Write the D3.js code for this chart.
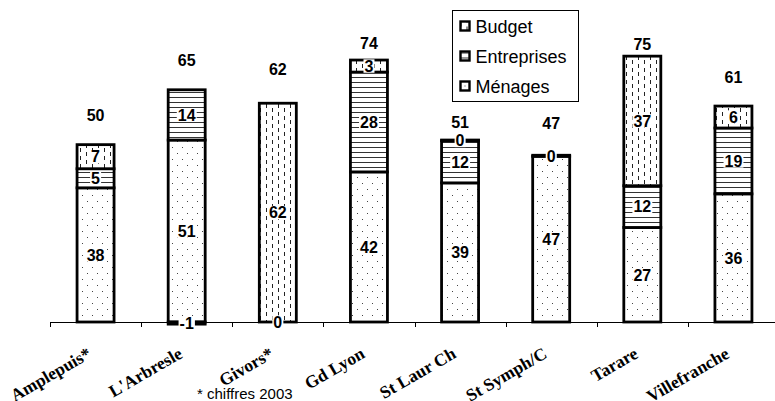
<!DOCTYPE html>
<html>
<head>
<meta charset="utf-8">
<script src="https://cdn.jsdelivr.net/npm/d3@7/dist/d3.min.js"></script>
<style>
  html, body { margin: 0; padding: 0; background: #fff; }
  svg { display: block; }
</style>
</head>
<body>
<svg id="chart" width="775" height="401"></svg>
<script>
// Financement du service déchets par collectivité (€/hab)
const categories = ["Amplepuis*", "L'Arbresle", "Givors*", "Gd Lyon", "St Laur Ch", "St Symph/C", "Tarare", "Villefranche"];
const menages     = [37.9, 51.4, 0,    42.4, 39.3, 46.8, 26.7, 36.2];
const entreprises = [5.4,  14.2, null, 28.2, 11.9, 0.3,  11.8, 18.6];
const budget      = [6.8,  -0.6, 61.8, 3.4,  0.2,  null, 36.6, 6.2];
const seriesNames = ["Ménages", "Entreprises", "Budget"];
const legendOrder = ["Budget", "Entreprises", "Ménages"];
const yDomain = [0, 80];

// layout: lift of each total label above its stack top (px)
const totalLift = [30, 30, 34, 17, 18, 32, 12, 29];

const svg = d3.select("#chart");
const W = 775, H = 401;
const baseY = 322;

const x = d3.scaleBand().domain(categories).range([50, 779]).paddingInner(0).paddingOuter(0);
const y = d3.scaleLinear().domain(yDomain).range([baseY, baseY - 80 * 3.54]);
const barW = 37;

// ---- fill patterns
const defs = svg.append("defs");
const pDots = defs.append("pattern").attr("id", "pat-menages")
  .attr("patternUnits", "userSpaceOnUse").attr("width", 10).attr("height", 12);
pDots.append("rect").attr("width", 10).attr("height", 12).attr("fill", "#fff");
pDots.append("rect").attr("x", 2).attr("y", 3).attr("width", 1).attr("height", 1).attr("fill", "#444");
pDots.append("rect").attr("x", 7).attr("y", 9).attr("width", 1).attr("height", 1).attr("fill", "#444");

const pLines = defs.append("pattern").attr("id", "pat-entreprises")
  .attr("patternUnits", "userSpaceOnUse").attr("width", 8).attr("height", 5);
pLines.append("rect").attr("width", 8).attr("height", 5).attr("fill", "#fff");
pLines.append("rect").attr("x", 0).attr("y", 2).attr("width", 8).attr("height", 1).attr("fill", "#333");

const pDash = defs.append("pattern").attr("id", "pat-budget")
  .attr("patternUnits", "userSpaceOnUse").attr("width", 12).attr("height", 8);
pDash.append("rect").attr("width", 12).attr("height", 8).attr("fill", "#fff");
pDash.append("rect").attr("x", 2).attr("y", 0).attr("width", 1).attr("height", 4).attr("fill", "#222");
pDash.append("rect").attr("x", 8).attr("y", 4).attr("width", 1).attr("height", 4).attr("fill", "#222");

const fills = { "Ménages": "url(#pat-menages)", "Entreprises": "url(#pat-entreprises)", "Budget": "url(#pat-budget)" };

// ---- title (runs above the top edge)
svg.append("text")
  .attr("x", 345).attr("y", 0)
  .attr("text-anchor", "middle")
  .attr("font-family", "Liberation Sans, Arial, sans-serif")
  .attr("font-weight", "bold").attr("font-size", 17)
  .attr("fill", "#888")
  .text("Financement du service d'élimination des déchets");

// ---- stacked data
const rows = categories.map((c, i) => ({
  cat: c,
  "Ménages": menages[i],
  "Entreprises": entreprises[i],
  "Budget": budget[i]
}));
const stack = d3.stack().keys(seriesNames)
  .value((d, k) => d[k] == null ? 0 : d[k])
  .offset(d3.stackOffsetDiverging);
const layers = stack(rows);

// ---- x axis
const axisG = svg.append("g");
axisG.append("line").attr("x1", 50).attr("x2", W).attr("y1", baseY + 0.5).attr("y2", baseY + 0.5)
  .attr("stroke", "#000").attr("stroke-width", 1);
categories.forEach(c => {
  const bx = Math.round(x(c)) + 0.5;
  axisG.append("line").attr("x1", bx).attr("x2", bx).attr("y1", baseY).attr("y2", baseY + 5)
    .attr("stroke", "#000").attr("stroke-width", 1);
});
categories.forEach(c => {
  const cx = x(c) + x.bandwidth() / 2 - 3;
  axisG.append("text")
    .attr("transform", `translate(${cx},357) rotate(-30)`)
    .attr("text-anchor", "end")
    .attr("font-family", "Liberation Serif, Times New Roman, serif")
    .attr("font-weight", "bold").attr("font-size", 17.5)
    .text(c);
});

// ---- bars
const barsG = svg.append("g");
layers.forEach(layer => {
  const key = layer.key;
  layer.forEach((seg, i) => {
    if (rows[i][key] == null) return;
    const cx = x(categories[i]) + x.bandwidth() / 2;
    const top = y(Math.max(seg[0], seg[1]));
    const bot = y(Math.min(seg[0], seg[1]));
    barsG.append("rect")
      .attr("x", cx - barW / 2).attr("y", top)
      .attr("width", barW).attr("height", Math.max(0, bot - top))
      .attr("fill", fills[key])
      .attr("stroke", "#000").attr("stroke-width", 2.8);
  });
});

// ---- segment value labels
const labelsG = svg.append("g");
function boxedLabel(g, cx, cy, txt, size) {
  const t = g.append("text")
    .attr("x", cx).attr("y", cy + size * 0.36)
    .attr("text-anchor", "middle")
    .attr("font-family", "Liberation Sans, Arial, sans-serif")
    .attr("font-weight", "bold").attr("font-size", size)
    .text(txt);
  const bb = t.node().getBBox();
  g.insert("rect", () => t.node())
    .attr("x", bb.x - 1).attr("y", cy - size * 0.42)
    .attr("width", bb.width + 2).attr("height", size * 0.84)
    .attr("fill", "#fff");
}
layers.forEach(layer => {
  const key = layer.key;
  layer.forEach((seg, i) => {
    const v = rows[i][key];
    if (v == null) return;
    const cx = x(categories[i]) + x.bandwidth() / 2;
    const cy = (y(seg[0]) + y(seg[1])) / 2;
    boxedLabel(labelsG, cx, cy, String(Math.round(v)), 16);
  });
});

// ---- totals above each bar
categories.forEach((c, i) => {
  const parts = [menages[i], entreprises[i], budget[i]].map(v => v == null ? 0 : v);
  const total = d3.sum(parts);
  const posTop = d3.sum(parts.filter(v => v > 0));
  const cx = x(c) + x.bandwidth() / 2;
  const cy = y(posTop) - totalLift[i];
  svg.append("text")
    .attr("x", cx).attr("y", cy + 6)
    .attr("text-anchor", "middle")
    .attr("font-family", "Liberation Sans, Arial, sans-serif")
    .attr("font-weight", "bold").attr("font-size", 16)
    .text(String(Math.round(total)));
});

// ---- legend
const lg = svg.append("g").attr("transform", "translate(452.5,10.5)");
lg.append("rect").attr("width", 126).attr("height", 91)
  .attr("fill", "#fff").attr("stroke", "#000").attr("stroke-width", 1);
legendOrder.forEach((k, j) => {
  const ry = 16 + j * 30;
  lg.append("rect").attr("x", 8).attr("y", ry - 5).attr("width", 9).attr("height", 9)
    .attr("fill", fills[k]).attr("stroke", "#000").attr("stroke-width", 2.4);
  lg.append("text").attr("x", 23).attr("y", ry + 6.5)
    .attr("font-family", "Liberation Sans, Arial, sans-serif")
    .attr("font-size", 18)
    .text(k);
});

// ---- footnote
svg.append("text").attr("x", 197).attr("y", 399)
  .attr("font-family", "Liberation Sans, Arial, sans-serif")
  .attr("font-size", 15)
  .text("* chiffres 2003");
</script>
</body>
</html>
